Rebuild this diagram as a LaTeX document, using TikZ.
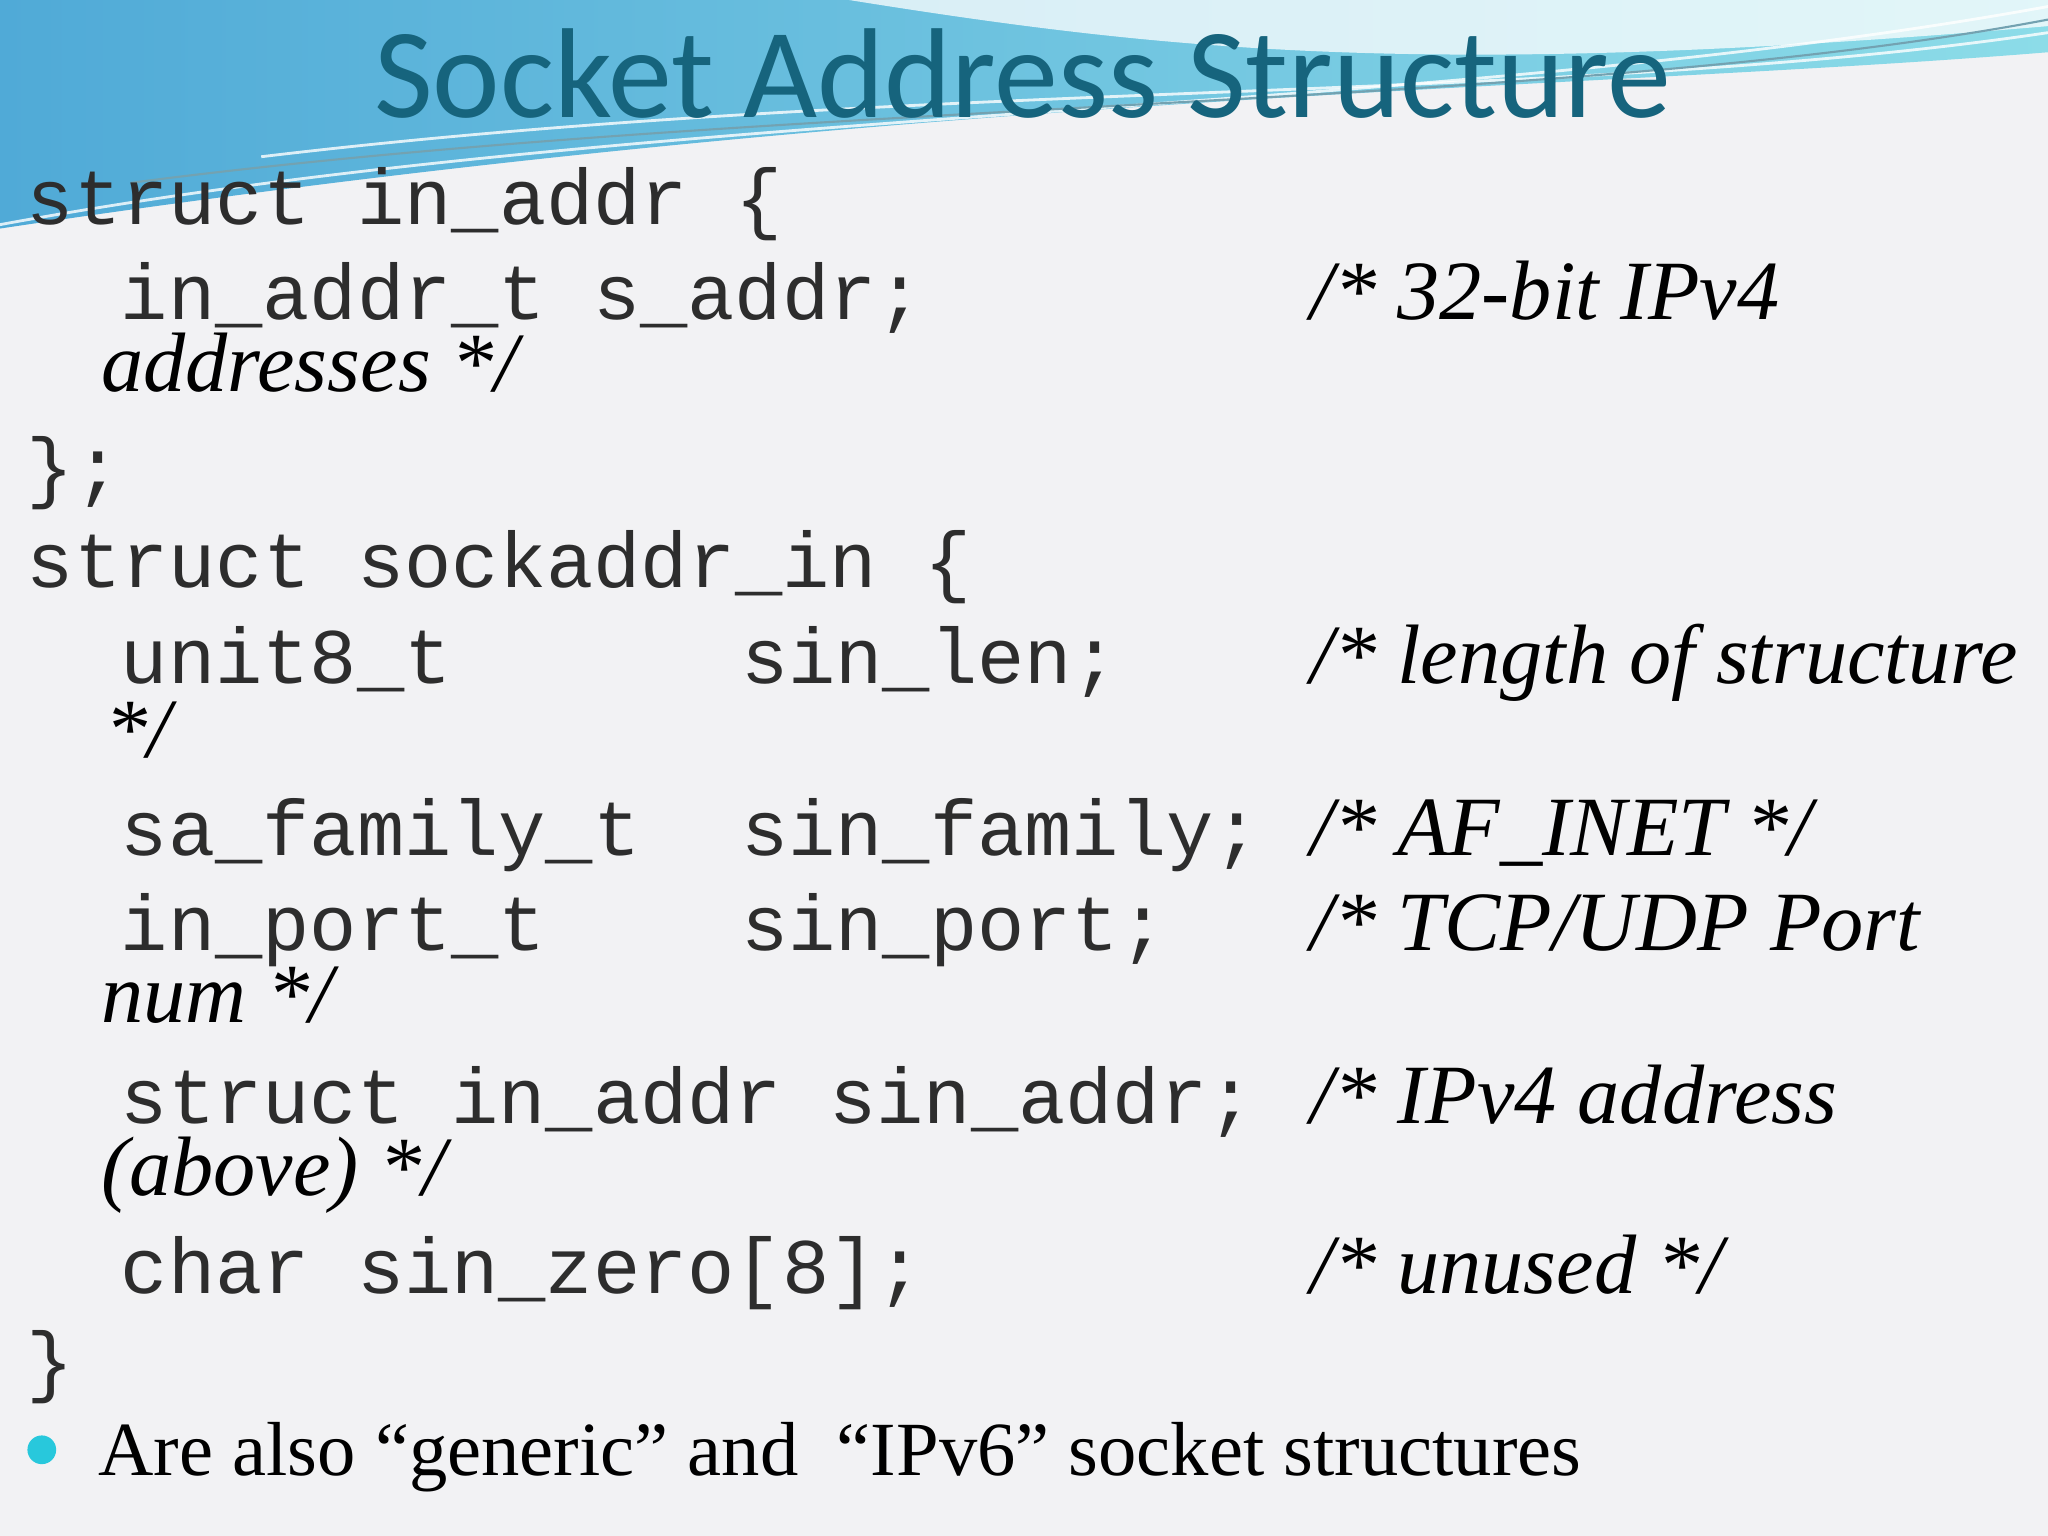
\documentclass[tikz,border=0pt]{standalone}
\usepackage{fontspec}
\setmainfont{Liberation Serif}
\setmonofont{Liberation Mono}
\newfontfamily\titlefont{Carlito}
\definecolor{bg}{RGB}{242,242,244}
\definecolor{titlec}{RGB}{22,100,125}
\definecolor{codec}{RGB}{45,45,45}
\definecolor{bul}{RGB}{40,200,220}
\tikzset{
 code/.style={anchor=base west,inner sep=0pt,font=\fontsize{22.4}{26}\selectfont\ttfamily,text=codec},
 cmt/.style={anchor=base west,inner sep=0pt,font=\fontsize{24}{28}\selectfont\itshape,text=black},
 swl/.style={line width=0.8pt,white,opacity=0.8}
}
\begin{document}
\begin{tikzpicture}[x=0.013061cm,y=-0.013061cm]
\fill[bg] (0,0) rectangle (1568,1176);
\useasboundingbox (0,0) rectangle (1568,1176);
\shade[left color={rgb,255:red,80;green,170;blue,215},right color={rgb,255:red,140;green,220;blue,232}]
 (0,0) -- (1568,0) -- (1568,40) .. controls (1200,70) and (700,70) .. (0,175) -- cycle;
\fill[white,opacity=0.75] (650,0) .. controls (900,40) and (1100,60) .. (1568,20) -- (1568,0) -- cycle;
\draw[swl] (0,172) .. controls (500,80) and (1100,90) .. (1568,5);
\draw[swl] (200,120) .. controls (700,60) and (1200,80) .. (1568,25);
\draw[line width=0.6pt,titlec!60] (100,140) .. controls (600,75) and (1200,85) .. (1568,15);
\node[anchor=base,inner sep=0pt,font=\fontsize{36.4}{42}\selectfont\titlefont,text=titlec] (title) at (783,90) {Socket Address Structure};

\node[code] (l1) at (20,172) {struct in\_addr \{};
\node[code] (l2) at (92,245) {in\_addr\_t s\_addr;};
\node[cmt] (c2) at (1003,245) {/* 32-bit IPv4};
\node[cmt] (c2b) at (77,300) {addresses */};
\node[code] (l3) at (20,378) {\};};
\node[code] (l4) at (20,450) {struct sockaddr\_in \{};
\node[code] (l5) at (92,523) {unit8\_t};
\node[code] (l5b) at (567,523) {sin\_len;};
\node[cmt] (c5) at (1003,523) {/* length of structure};
\node[cmt] (c5b) at (80,580) {*/};
\node[code] (l6) at (92,655) {sa\_family\_t};
\node[code] (l6b) at (567,655) {sin\_family;};
\node[cmt] (c6) at (1003,655) {/* AF\_INET */};
\node[code] (l7) at (92,728) {in\_port\_t};
\node[code] (l7b) at (567,728) {sin\_port;};
\node[cmt] (c7) at (1003,728) {/* TCP/UDP Port};
\node[cmt] (c7b) at (77,783) {num */};
\node[code] (l8) at (92,860) {struct in\_addr sin\_addr;};
\node[cmt] (c8) at (1003,860) {/* IPv4 address};
\node[cmt] (c8b) at (77,915) {(above) */};
\node[code] (l9) at (92,990) {char sin\_zero[8];};
\node[cmt] (c9) at (1003,990) {/* unused */};
\node[code] (l10) at (20,1062) {\}};
\fill[bul] (32,1110) circle (11);
\node[anchor=base west,inner sep=0pt,font=\fontsize{21.8}{26}\selectfont] (b1) at (75,1130) {Are also “generic” and \ “IPv6” socket structures};
\end{tikzpicture}
\end{document}
